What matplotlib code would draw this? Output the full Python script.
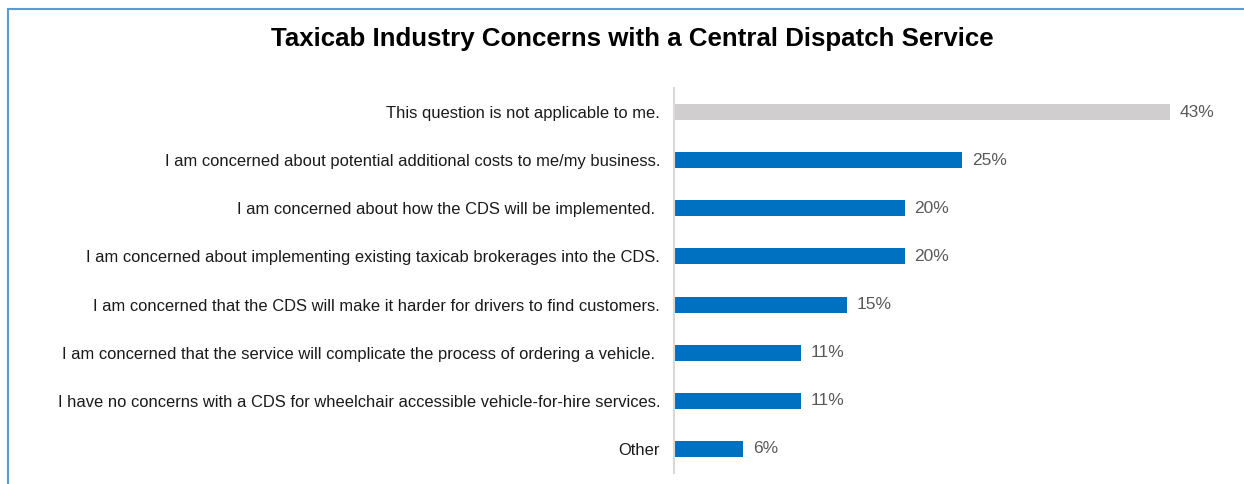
import matplotlib.pyplot as plt
from matplotlib.patches import Rectangle

plt.rcParams['font.family'] = ['Liberation Sans', 'DejaVu Sans']

# --- данные ---
categories = [
    "This question is not applicable to me.",
    "I am concerned about potential additional costs to me/my business.",
    "I am concerned about how the CDS will be implemented. ",
    "I am concerned about implementing existing taxicab brokerages into the CDS.",
    "I am concerned that the CDS will make it harder for drivers to find customers.",
    "I am concerned that the service will complicate the process of ordering a vehicle. ",
    "I have no concerns with a CDS for wheelchair accessible vehicle-for-hire services.",
    "Other",
]
values = [43, 25, 20, 20, 15, 11, 11, 6]
bar_colors = ['#D0CECE'] + ['#0070C0'] * 7
title = "Taxicab Industry Concerns with a Central Dispatch Service"

W, H = 1244, 484
fig = plt.figure(figsize=(W / 100, H / 100), dpi=100)

# рамка (обрезана справа и снизу)
fig.patches.append(Rectangle((8 / W, -0.1), 1.2, 1 - 9 / H + 0.1, transform=fig.transFigure,
                             fill=False, edgecolor='#5B9BD5', linewidth=1.5))

ax = fig.add_axes([674 / W, 11 / H, (1170 - 674) / W, (473 - 88) / H])
y = list(range(len(categories)))
ax.barh(y, values, height=0.33, color=bar_colors, edgecolor='none')
ax.set_xlim(0, 43)
ax.set_ylim(len(categories) - 0.5, -0.5)

for yi, v in zip(y, values):
    ax.text(v + 0.85, yi, f"{v}%", va='center', ha='left', fontsize=12.5,
            color='#595959', clip_on=False)

ax.set_yticks(y)
ax.set_yticklabels(categories, fontsize=11.9, color='#1a1a1a')
ax.tick_params(axis='y', length=0, pad=10)
ax.set_xticks([])
for s in ['top', 'right', 'bottom']:
    ax.spines[s].set_visible(False)
ax.spines['left'].set_color('#D9D9D9')
ax.spines['left'].set_linewidth(1.5)

fig.text(632 / W, 1 - 39 / H, title, ha='center', va='center', fontsize=18.6,
         fontweight='bold', color='black')

fig.savefig('out.png', dpi=100)
